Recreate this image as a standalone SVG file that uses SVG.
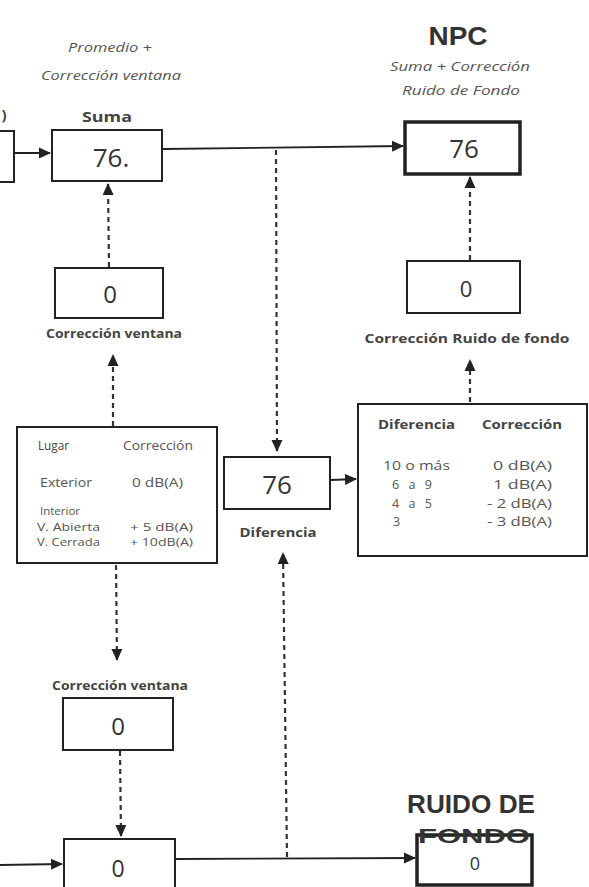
<svg xmlns="http://www.w3.org/2000/svg" width="589" height="887" viewBox="0 0 589 887">
<style>
.box{fill:#fff;stroke:#222;stroke-width:2}
.thick{fill:#fff;stroke:#222;stroke-width:3.5}
.ln{fill:none;stroke:#222;stroke-width:1.8}
.dash{fill:none;stroke:#333;stroke-width:2.2;stroke-dasharray:5 4}
.num{font-family:"Open Sans","Liberation Sans",sans-serif;font-size:26px;fill:#333;text-anchor:middle}
.lbl{font-family:"Open Sans","Liberation Sans",sans-serif;font-size:13px;font-weight:bold;fill:#444;text-anchor:middle}
.it{font-family:"Open Sans","Liberation Sans",sans-serif;font-size:12px;font-style:italic;fill:#555;text-anchor:middle}
.big{font-family:"Liberation Sans",Arial,sans-serif;font-size:26px;font-weight:bold;fill:#333;text-anchor:middle}
.tb{font-family:"Open Sans","Liberation Sans",sans-serif;font-size:12.5px;fill:#555}
.sm{font-size:11.5px}
.th{font-family:"Open Sans","Liberation Sans",sans-serif;font-size:12px;font-weight:bold;fill:#444}
</style>
<defs>
<marker id="ahs" markerWidth="12" markerHeight="12" refX="11" refY="6" orient="auto" markerUnits="userSpaceOnUse"><path d="M0,0.5 L12,6 L0,11.5 z" fill="#222"/></marker>
</defs>
<rect width="589" height="887" fill="#fff"/>

<g id="connectors">
<line class="ln" x1="15" y1="153" x2="50" y2="153" marker-end="url(#ahs)"/>
<line class="ln" x1="163" y1="149" x2="403" y2="146" marker-end="url(#ahs)"/>
<line class="dash" x1="276" y1="150" x2="277" y2="451" marker-end="url(#ahs)"/>
<line class="ln" x1="331" y1="480" x2="356" y2="479" marker-end="url(#ahs)"/>
<line class="dash" x1="109" y1="267" x2="108" y2="184" marker-end="url(#ahs)"/>
<line class="dash" x1="113" y1="426" x2="113" y2="355" marker-end="url(#ahs)"/>
<line class="dash" x1="470" y1="260" x2="470" y2="177" marker-end="url(#ahs)"/>
<line class="dash" x1="470" y1="402" x2="470" y2="360" marker-end="url(#ahs)"/>
<line class="dash" x1="116" y1="565" x2="117" y2="660" marker-end="url(#ahs)"/>
<line class="dash" x1="120" y1="751" x2="121" y2="836" marker-end="url(#ahs)"/>
<line class="dash" x1="287" y1="857" x2="283" y2="553" marker-end="url(#ahs)"/>
<line class="ln" x1="0" y1="865" x2="62" y2="864" marker-end="url(#ahs)"/>
<line class="ln" x1="176" y1="859" x2="415" y2="858" marker-end="url(#ahs)"/>
</g>

<g id="partial">
<rect class="box" x="-10" y="131" width="24" height="51"/>
<text class="lbl" x="4" y="120" style="font-size:15px">)</text>
</g>

<g id="suma">
<text class="it" x="110" y="52" textLength="84" lengthAdjust="spacingAndGlyphs">Promedio +</text>
<text class="it" x="111" y="80" textLength="140" lengthAdjust="spacingAndGlyphs">Corrección ventana</text>
<text class="lbl" x="107" y="122" textLength="50" lengthAdjust="spacingAndGlyphs" style="font-size:14px">Suma</text>
<rect class="box" x="52" y="130" width="110" height="51"/>
<text class="num" x="111" y="167">76.</text>
</g>

<g id="npc">
<text class="big" x="458" y="45" textLength="59" lengthAdjust="spacingAndGlyphs">NPC</text>
<text class="it" x="460" y="71" textLength="140" lengthAdjust="spacingAndGlyphs">Suma + Corrección</text>
<text class="it" x="461" y="95" textLength="118" lengthAdjust="spacingAndGlyphs">Ruido de Fondo</text>
<rect class="thick" x="405" y="122" width="115" height="52"/>
<text class="num" x="464" y="158">76</text>
</g>

<g id="corr-ventana-top">
<rect class="box" x="55" y="268" width="108" height="50"/>
<text class="num" x="110" y="303" style="font-size:24px">0</text>
<text class="lbl" x="114" y="338" textLength="136" lengthAdjust="spacingAndGlyphs">Corrección ventana</text>
</g>

<g id="corr-ruido">
<rect class="box" x="407" y="261" width="113" height="52"/>
<text class="num" x="466" y="297" style="font-size:22px">0</text>
<text class="lbl" x="467" y="343" textLength="205" lengthAdjust="spacingAndGlyphs">Corrección Ruido de fondo</text>
</g>

<g id="tabla-lugar">
<rect class="box" x="17" y="427" width="200" height="136"/>
<text class="tb" x="38" y="450" textLength="31" lengthAdjust="spacingAndGlyphs" style="fill:#444">Lugar</text>
<text class="tb" x="123" y="450" textLength="70" lengthAdjust="spacingAndGlyphs">Corrección</text>
<text class="tb" x="40" y="487" textLength="52" lengthAdjust="spacingAndGlyphs">Exterior</text>
<text class="tb" x="132" y="487" textLength="51" lengthAdjust="spacingAndGlyphs">0 dB(A)</text>
<text class="tb sm" x="40" y="515">Interior</text>
<text class="tb sm" x="37" y="531" textLength="63" lengthAdjust="spacingAndGlyphs">V. Abierta</text>
<text class="tb sm" x="37" y="546" textLength="63" lengthAdjust="spacingAndGlyphs">V. Cerrada</text>
<text class="tb sm" x="130" y="531" textLength="63" lengthAdjust="spacingAndGlyphs">+ 5 dB(A)</text>
<text class="tb sm" x="130" y="546" textLength="63" lengthAdjust="spacingAndGlyphs">+ 10dB(A)</text>
</g>

<g id="diferencia">
<rect class="box" x="224" y="457" width="106" height="52"/>
<text class="num" x="277" y="494">76</text>
<text class="lbl" x="278" y="537" textLength="77" lengthAdjust="spacingAndGlyphs">Diferencia</text>
</g>

<g id="tabla-dif">
<rect class="box" x="358" y="404" width="229" height="152"/>
<text class="th" x="378" y="429" textLength="77" lengthAdjust="spacingAndGlyphs">Diferencia</text>
<text class="th" x="482" y="429" textLength="80" lengthAdjust="spacingAndGlyphs">Corrección</text>
<text class="tb" x="383" y="470" textLength="67" lengthAdjust="spacingAndGlyphs">10 o más</text>
<text class="tb" x="392" y="489" textLength="40" lengthAdjust="spacing" xml:space="preserve">6  a  9</text>
<text class="tb" x="392" y="508" textLength="40" lengthAdjust="spacing" xml:space="preserve">4  a  5</text>
<text class="tb" x="393" y="526">3</text>
<text class="tb" x="493" y="470" textLength="59" lengthAdjust="spacingAndGlyphs">0 dB(A)</text>
<text class="tb" x="493" y="489" textLength="59" lengthAdjust="spacingAndGlyphs">1 dB(A)</text>
<text class="tb" x="487" y="508" textLength="65" lengthAdjust="spacingAndGlyphs">- 2 dB(A)</text>
<text class="tb" x="487" y="526" textLength="65" lengthAdjust="spacingAndGlyphs">- 3 dB(A)</text>
</g>

<g id="corr-ventana-bottom">
<text class="lbl" x="120" y="690" textLength="136" lengthAdjust="spacingAndGlyphs">Corrección ventana</text>
<rect class="box" x="63" y="698" width="110" height="52"/>
<text class="num" x="118" y="735" style="font-size:24px">0</text>
</g>

<g id="bottom-box">
<rect class="box" x="64" y="839" width="111" height="60"/>
<text class="num" x="118" y="877" style="font-size:23px">0</text>
</g>

<g id="ruido">
<text class="big" x="471" y="813" textLength="128" lengthAdjust="spacingAndGlyphs" style="font-size:25px">RUIDO DE</text>
<rect class="thick" x="417" y="835" width="115" height="50"/>
<text class="big" x="474" y="843" textLength="112" lengthAdjust="spacingAndGlyphs" style="font-size:21px">FONDO</text>
<text class="num" x="475" y="870" style="font-size:18px">0</text>
</g>
</svg>
